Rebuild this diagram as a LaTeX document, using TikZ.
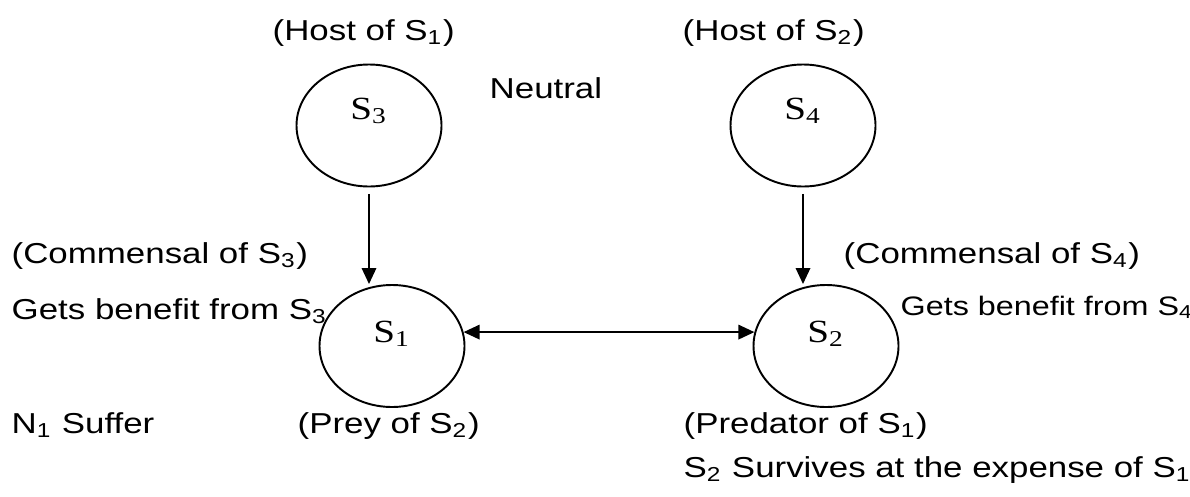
\documentclass[tikz,border=0pt]{standalone}
\usepackage{fontspec}
\setmainfont{Liberation Sans}[FakeStretch=1.21]
\newfontfamily\labelfont{Liberation Serif}[FakeStretch=1.21]
\usetikzlibrary{arrows.meta,shapes.geometric}

\begin{document}
\begin{tikzpicture}[x=1mm,y=1mm,>={Triangle[length=1.6mm,width=1.45mm]}]

    \tikzset{nodestyle/.style={draw,shape=ellipse,line width=0.55pt,minimum width=14.5mm,minimum height=12.2mm,inner sep=0pt}}
    \tikzset{labelstyle/.style={font=\labelfont\fontsize{9.2}{11}\selectfont,inner sep=0pt}}
    \tikzset{textstyle/.style={anchor=base west,inner sep=0pt,font=\fontsize{8.2}{10}\selectfont}}
    \useasboundingbox (0,0) rectangle (119,49.6);

    \node[nodestyle,label={[labelstyle,yshift=1.5mm]center:S\textsubscript{3}}] (s3) at (36.9,37.05) {};
    \node[nodestyle,label={[labelstyle,yshift=1.5mm]center:S\textsubscript{4}}] (s4) at (80.3,37.05) {};
    \node[nodestyle,label={[labelstyle,yshift=1.2mm]center:S\textsubscript{1}}] (s1) at (39.2,15.0) {};
    \node[nodestyle,label={[labelstyle,yshift=1.2mm]center:S\textsubscript{2}}] (s2) at (82.6,15.0) {};

    \node[textstyle] (h1) at (27.2,45.6) {(Host of S\textsubscript{1})};
    \node[textstyle] (h2) at (68.2,45.6) {(Host of S\textsubscript{2})};
    \node[textstyle] (nt) at (48.9,39.8) {Neutral};

    \node[textstyle] (c3) at (1.1,23.3) {(Commensal of S\textsubscript{3})};
    \node[textstyle] (c4) at (84.3,23.3) {(Commensal of S\textsubscript{4})};
    \node[textstyle] (g3) at (1.1,17.7) {Gets benefit from S\textsubscript{3}};
    \node[textstyle,font=\fontsize{7.6}{9}\selectfont] (g4) at (90.0,18.1) {Gets benefit from S\textsubscript{4}};

    \node[textstyle] (n1) at (1.1,6.3) {N\textsubscript{1} Suffer};
    \node[textstyle] (pr) at (29.7,6.3) {(Prey of S\textsubscript{2})};
    \node[textstyle] (pd) at (68.3,6.3) {(Predator of S\textsubscript{1})};
    \node[textstyle] (sv) at (68.3,1.9) {S\textsubscript{2} Survives at the expense of S\textsubscript{1}};

    \begin{scope}[every path/.style={line width=0.5pt}]
        \draw[->,shorten <=0.65mm] (s3.south) -- (s3.south |- s1.north);
        \draw[->,shorten <=0.65mm] (s4.south) -- (s4.south |- s2.north);
        \draw[<->] (s1.11) -- (s2.169);
    \end{scope}
\end{tikzpicture}
\end{document}
